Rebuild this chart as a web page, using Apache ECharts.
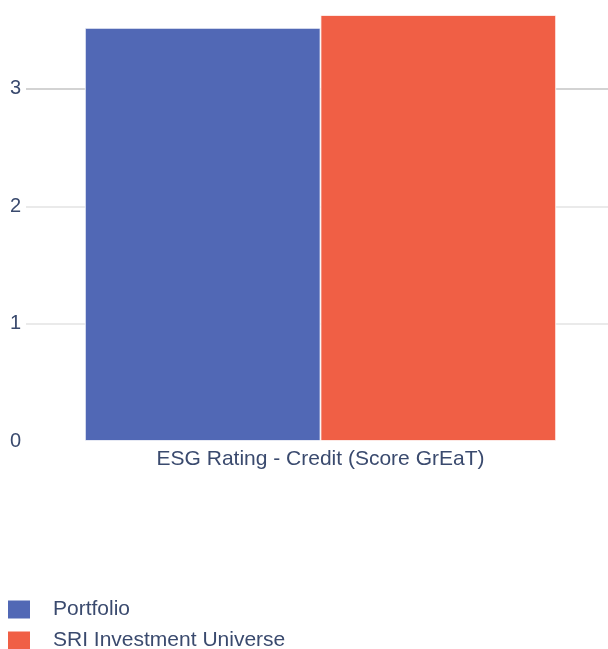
<!DOCTYPE html>
<html><head><meta charset="utf-8">
<script src="https://cdn.jsdelivr.net/npm/echarts@6/dist/echarts.min.js"></script>
<style>html,body{margin:0;padding:0;background:#fff;overflow:hidden}#c{width:615px;height:649px}</style>
</head><body><div id="c"></div>
<script>
const categories = ['ESG Rating - Credit (Score GrEaT)'];
const seriesNames = ['Portfolio', 'SRI Investment Universe'];
const portfolio = [3.52];
const universe = [3.63];
const colors = ['#5168b5', '#f05f45'];
const chart = echarts.init(document.getElementById('c'));
chart.setOption({
  animation: false,
  color: colors,
  textStyle: { fontFamily: '"Liberation Sans", Arial, sans-serif' },
  grid: { left: 26, right: 0, top: 15, bottom: 208, containLabel: false },
  legend: {
    orient: 'vertical', left: 8, top: 599, padding: 0, height: 120,
    itemWidth: 22, itemHeight: 18, itemGap: 10,
    icon: 'rect',
    itemStyle: { borderWidth: 0 },
    textStyle: { fontSize: 21, color: '#3a4a6e', padding: [0, 0, 0, 18] },
    data: seriesNames
  },
  xAxis: {
    type: 'category', data: categories,
    axisLine: { show: false }, axisTick: { show: false },
    axisLabel: { fontSize: 21, color: '#3a4a6e', margin: 8 }
  },
  yAxis: {
    type: 'value', min: 0, max: 3.63, interval: 1,
    axisLine: { show: false }, axisTick: { show: false },
    axisLabel: { fontSize: 20, color: '#3a4a6e', margin: 5, showMaxLabel: false,
      formatter: v => Number.isInteger(v) ? String(v) : '' },
    splitLine: { lineStyle: { color: ['rgba(0,0,0,0)', '#e3e3e3', '#e3e3e3', '#c4c4c4', 'rgba(0,0,0,0)'], width: 1.5 } }
  },
  series: [
    { name: seriesNames[0], type: 'bar', data: portfolio, barGap: '0%', barCategoryGap: '20%',
      itemStyle: { borderColor: '#fff', borderWidth: 0.8 } },
    { name: seriesNames[1], type: 'bar', data: universe,
      itemStyle: { borderColor: '#fff', borderWidth: 0.8 } }
  ]
});
</script></body></html>
